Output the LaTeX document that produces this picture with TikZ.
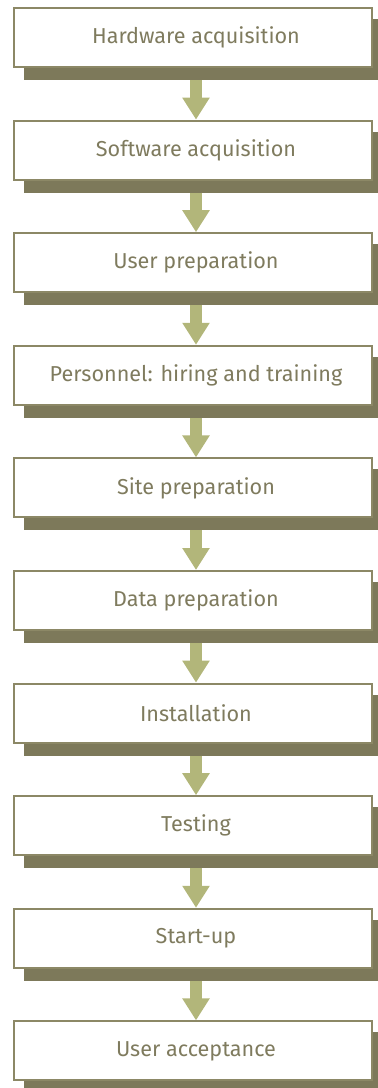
\documentclass[tikz,border=0pt]{standalone}
\usepackage{fontspec}
\setmainfont{Fira Sans}
\usetikzlibrary{arrows.meta,backgrounds}
\definecolor{boxstroke}{HTML}{8C8866}
\definecolor{boxshade}{HTML}{7D795A}
\definecolor{flowfill}{HTML}{B2B67A}
\definecolor{labeltext}{HTML}{7F7B5E}

\begin{document}
\begin{tikzpicture}[x=0.5pt, y=-0.5pt,
  stagebox/.style={draw=boxstroke, fill=white, line width=1pt,
    minimum width=179pt, minimum height=29.5pt, inner sep=0pt,
    font=\fontsize{10.8}{13}\selectfont, text=labeltext},
  flowarrow/.style={draw=flowfill, line width=6pt,
    -{Triangle[width=13pt, length=11pt]}}]

%%=== COORDINATE PLAN (px, y down) ===================================
%%  Box x-centre = 193; box 358 x 59; pitch 112.6
%%  Shadow: offset (11,12) at lower left, (5,12) at upper right
%%====================================================================
\useasboundingbox (0,0) rectangle (377,1088);

%% --- Stage boxes ---------------------------------------------------
\node[stagebox] (hw)   at (193,  37.5) {\hspace{3pt}Hardware acquisition};
\node[stagebox] (sw)   at (193, 150.1) {\hspace{3pt}Software acquisition};
\node[stagebox] (uprep) at (193, 262.7) {\hspace{3pt}User preparation};
\node[stagebox] (staff) at (193, 375.3) {\hspace{3pt}Personnel: hiring and training};
\node[stagebox] (site) at (193, 487.9) {\hspace{3pt}Site preparation};
\node[stagebox] (data) at (193, 600.5) {\hspace{3pt}Data preparation};
\node[stagebox] (inst) at (193, 713.1) {\hspace{3pt}Installation};
\node[stagebox] (test) at (193, 825.7) {\hspace{3pt}Testing};
\node[stagebox] (start) at (193, 938.3) {\hspace{3pt}Start-up};
\node[stagebox] (accept) at (193,1050.9) {\hspace{3pt}User acceptance};

%% --- Solid shadows behind the boxes --------------------------------
\begin{pgfonlayer}{background}
  \fill[boxshade] ([shift={(11,12)}]hw.south west)    rectangle ([shift={(5,12)}]hw.north east);
  \fill[boxshade] ([shift={(11,12)}]sw.south west)    rectangle ([shift={(5,12)}]sw.north east);
  \fill[boxshade] ([shift={(11,12)}]uprep.south west) rectangle ([shift={(5,12)}]uprep.north east);
  \fill[boxshade] ([shift={(11,12)}]staff.south west) rectangle ([shift={(5,12)}]staff.north east);
  \fill[boxshade] ([shift={(11,12)}]site.south west)  rectangle ([shift={(5,12)}]site.north east);
  \fill[boxshade] ([shift={(11,12)}]data.south west)  rectangle ([shift={(5,12)}]data.north east);
  \fill[boxshade] ([shift={(11,12)}]inst.south west)  rectangle ([shift={(5,12)}]inst.north east);
  \fill[boxshade] ([shift={(11,12)}]test.south west)  rectangle ([shift={(5,12)}]test.north east);
  \fill[boxshade] ([shift={(11,12)}]start.south west) rectangle ([shift={(5,12)}]start.north east);
  \fill[boxshade] ([shift={(11,12)}]accept.south west) rectangle ([shift={(5,12)}]accept.north east);
\end{pgfonlayer}

%% --- Block arrows (from shadow bottom to next box top) -------------
\draw[flowarrow] ([shift={(3,12)}]hw.south)    -- ([xshift=1.5pt]sw.north);
\draw[flowarrow] ([shift={(3,12)}]sw.south)    -- ([xshift=1.5pt]uprep.north);
\draw[flowarrow] ([shift={(3,12)}]uprep.south) -- ([xshift=1.5pt]staff.north);
\draw[flowarrow] ([shift={(3,12)}]staff.south) -- ([xshift=1.5pt]site.north);
\draw[flowarrow] ([shift={(3,12)}]site.south)  -- ([xshift=1.5pt]data.north);
\draw[flowarrow] ([shift={(3,12)}]data.south)  -- ([xshift=1.5pt]inst.north);
\draw[flowarrow] ([shift={(3,12)}]inst.south)  -- ([xshift=1.5pt]test.north);
\draw[flowarrow] ([shift={(3,12)}]test.south)  -- ([xshift=1.5pt]start.north);
\draw[flowarrow] ([shift={(3,12)}]start.south) -- ([xshift=1.5pt]accept.north);

\end{tikzpicture}
\end{document}
